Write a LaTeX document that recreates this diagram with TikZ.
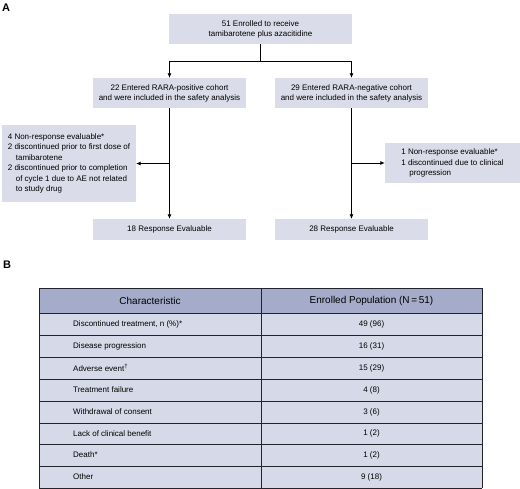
\documentclass[tikz,border=0pt]{standalone}
\usepackage{fontspec}
\setmainfont{Liberation Sans}
\usetikzlibrary{arrows.meta}
\definecolor{boxfill}{RGB}{218,220,233}
\definecolor{hdrfill}{RGB}{164,172,201}
\definecolor{rowfill}{RGB}{214,217,231}
\definecolor{edge}{RGB}{35,35,45}
\tikzset{
  fbox/.style={fill=boxfill, draw=none, minimum width=153pt, minimum height=30pt, align=center, inner sep=0pt, font=\fontsize{8}{10}\selectfont},
  sidebox/.style={fill=boxfill, draw=none, align=left, inner sep=0pt, font=\fontsize{8}{10.4}\selectfont},
  arr/.style={line width=0.8pt, -{Latex[length=4.5pt,width=4pt]}},
  conn/.style={line width=0.8pt},
  panel/.style={font=\fontsize{11}{12}\selectfont\bfseries},
  cellL/.style={anchor=west, inner sep=0pt, font=\fontsize{8}{10}\selectfont},
  cellR/.style={anchor=center, inner sep=0pt, font=\fontsize{8}{10}\selectfont},
  hdr/.style={anchor=center, inner sep=0pt, font=\fontsize{10}{12}\selectfont},
  grid/.style={draw=edge, line width=0.9pt}
}
\begin{document}
\begin{tikzpicture}[x=1pt,y=-1pt]
\useasboundingbox (0,0) rectangle (520,489);
% panel labels
\node[panel] (lblA) at (6,7.5) {A};
\node[panel] (lblB) at (7,265) {B};
% flow boxes
\node[fbox, minimum width=183pt] (enr) at (260.5,29) {51 Enrolled to receive\\tamibarotene plus azacitidine};
\node[fbox] (pos) at (169.5,93) {22 Entered RARA-positive cohort\\and were included in the safety analysis};
\node[fbox] (neg) at (351.5,93) {29 Entered RARA-negative cohort\\and were included in the safety analysis};
\node[fbox, minimum height=21pt] (respL) at (169.5,229.5) {18 Response Evaluable};
\node[fbox, minimum height=21pt] (respR) at (351.5,229.5) {28 Response Evaluable};
\node[sidebox, minimum width=134pt, minimum height=77pt] (sideL) at (69,163.5)
  {4 Non-response evaluable*\\
   2 discontinued prior to first dose of\\
   \hspace*{8pt}tamibarotene\\
   2 discontinued prior to completion\\
   \hspace*{8pt}of cycle 1 due to AE not related\\
   \hspace*{8pt}to study drug};
\node[sidebox, minimum width=135pt, minimum height=40pt] (sideR) at (452.5,163)
  {1 Non-response evaluable*\\
   1 discontinued due to clinical\\
   \hspace*{8pt}progression};
% connectors
\coordinate (j) at (260.5,61);
\draw[conn] (enr.south) -- (j);
\draw[arr] (j) -| (pos.north);
\draw[arr] (j) -| (neg.north);
\draw[arr] (pos.south) -- (respL.north);
\draw[arr] (neg.south) -- (respR.north);
\coordinate (bL) at (pos.south |- sideL.east);
\coordinate (bR) at (neg.south |- sideR.west);
\draw[arr] (bL) -- (sideL.east);
\draw[arr] (bR) -- (sideR.west);
% table
\fill[hdrfill] (39,288) rectangle (482,313);
\fill[rowfill] (39,313) rectangle (482,488);
\foreach \yy in {288,313,335,357,379,401,423,444,466,488}
  \draw[grid] (39,\yy) -- (482,\yy);
\draw[grid] (39,288) -- (39,488);
\draw[grid] (261,288) -- (261,488);
\draw[grid] (482,288) -- (482,488);
\node[hdr] (h1) at (150,300.5) {Characteristic};
\node[hdr] (h2) at (371.5,300.5) {Enrolled Population (N\,=\,51)};
\node[cellL] (r1a) at (73,324) {Discontinued treatment, n (\%)*};
\node[cellR] (r1b) at (371.5,324) {49 (96)};
\node[cellL] (r2a) at (73,346) {Disease progression};
\node[cellR] (r2b) at (371.5,346) {16 (31)};
\node[cellL] (r3a) at (73,368) {Adverse event\textsuperscript{†}};
\node[cellR] (r3b) at (371.5,368) {15 (29)};
\node[cellL] (r4a) at (73,390) {Treatment failure};
\node[cellR] (r4b) at (371.5,390) {4 (8)};
\node[cellL] (r5a) at (73,412) {Withdrawal of consent};
\node[cellR] (r5b) at (371.5,412) {3 (6)};
\node[cellL] (r6a) at (73,433.5) {Lack of clinical benefit};
\node[cellR] (r6b) at (371.5,433.5) {1 (2)};
\node[cellL] (r7a) at (73,455) {Death*};
\node[cellR] (r7b) at (371.5,455) {1 (2)};
\node[cellL] (r8a) at (73,477) {Other};
\node[cellR] (r8b) at (371.5,477) {9 (18)};
\end{tikzpicture}
\end{document}
